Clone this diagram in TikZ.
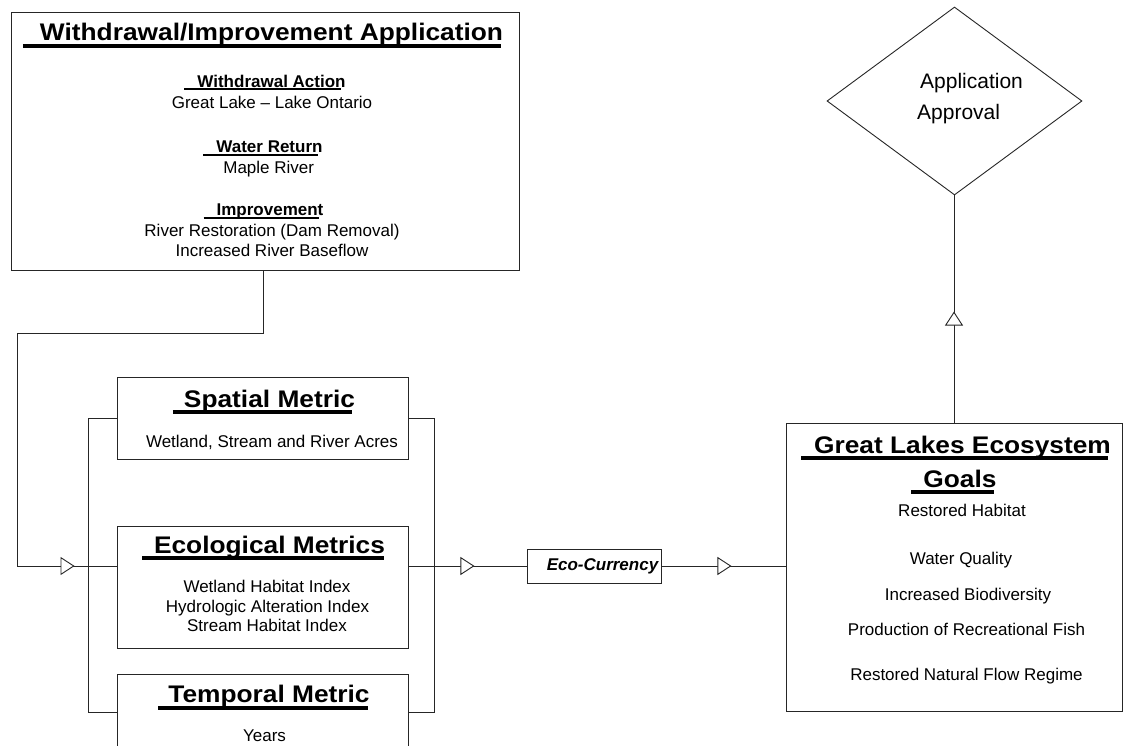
\documentclass[tikz,border=0pt]{standalone}
\usepackage{fontspec}
\setmainfont{Liberation Sans}
\usepackage{graphicx}
\usetikzlibrary{arrows.meta,decorations.markings,shapes.geometric}

\newsavebox{\ulsave}
% #1 lead, #2 trim, #3 drop, #4 thickness, #5 content
\newcommand{\ultext}[5]{\sbox{\ulsave}{#5}\rlap{\hspace*{-#1}\rule[-#3]{\dimexpr\wd\ulsave+#1-#2\relax}{#4}}\usebox{\ulsave}}
\newcommand{\mytitle}[3]{\ultext{#1}{#2}{7pt}{4pt}{\scalebox{1.096}[1]{\fontsize{24}{28}\selectfont\bfseries #3}}}
\newcommand{\mysub}[1]{\ultext{13pt}{4.5pt}{3.2pt}{2.2pt}{\fontsize{17}{20}\selectfont\bfseries #1}}

\tikzset{
  box/.style={draw=black!85, line width=0.9pt, rectangle, inner sep=0pt},
  txt/.style={anchor=base, inner sep=0pt, font=\fontsize{17}{20}\selectfont},
  conn/.style={draw=black!85, line width=0.9pt},
  tri/.style={postaction={decorate, decoration={markings,
      mark=at position #1 with {\arrow{Triangle[length=14pt,width=18pt,fill=white]}}}}}
}

\begin{document}
\begin{tikzpicture}[x=1pt, y=-1pt]
\useasboundingbox (0,0) rectangle (1125,746);
\fill[white] (0,0) rectangle (1125,746);
\clip (0,0) rectangle (1125,746);

% boxes
\node[box, minimum width=508pt, minimum height=258pt] (app) at (265,141) {};
\node[box, minimum width=291pt, minimum height=82pt] (spatial) at (262.5,418) {};
\node[box, minimum width=291pt, minimum height=122pt] (ecol) at (262.5,587) {};
\node[box, minimum width=291pt, minimum height=76pt] (temporal) at (262.5,712) {};
\node[box, minimum width=134pt, minimum height=34pt] (ecocur) at (594,566) {};
\node[box, minimum width=336pt, minimum height=288pt] (goals) at (954,567) {};
\node[draw=black!85, line width=0.9pt, diamond, minimum width=255pt, minimum height=188pt, inner sep=0pt] (approval) at (954.5,101) {};

% application texts
\node[txt] (appt) at (271.5,40.7) {\mytitle{17pt}{2pt}{Withdrawal/Improvement Application}};
\node[txt] (wa) at (271.5,87.3) {\mysub{Withdrawal Action}};
\node[txt] (wal) at (272,109) {Great Lake -- Lake Ontario};
\node[txt] (wr) at (269.5,153) {\mysub{Water Return}};
\node[txt] (wrl) at (268.7,174) {Maple River};
\node[txt] (imp) at (270,216) {\mysub{Improvement}};
\node[txt] (imp1) at (272,237) {River Restoration (Dam Removal)};
\node[txt] (imp2) at (272,257) {Increased River Baseflow};

% metric texts
\node[txt] (spt) at (269.5,407) {\mytitle{11pt}{3pt}{Spatial Metric}};
\node[txt] (sp1) at (272,447.3) {Wetland, Stream and River Acres};
\node[txt] (ect) at (269.5,553) {\mytitle{12pt}{1pt}{Ecological Metrics}};
\node[txt] (ec1) at (267,592.7) {Wetland Habitat Index};
\node[txt] (ec2) at (267.5,612.7) {Hydrologic Alteration Index};
\node[txt] (ec3) at (267,631.7) {Stream Habitat Index};
\node[txt] (tmt) at (269,702.5) {\mytitle{10pt}{2pt}{Temporal Metric}};
\node[txt] (tm1) at (264.5,741) {Years};

% eco currency
\node[txt, font=\fontsize{17}{20}\selectfont\bfseries\itshape] (ecot) at (602.5,570.7) {Eco-Currency};

% goals texts
\node[txt] (glt) at (962.5,453.3) {\mytitle{13pt}{3pt}{Great Lakes Ecosystem}};
\node[txt] (glt2) at (960,487.3) {\mytitle{12pt}{3pt}{Goals}};
\node[txt] (g1) at (962,516) {Restored Habitat};
\node[txt] (g2) at (961,564.3) {Water Quality};
\node[txt] (g3) at (968,600) {Increased Biodiversity};
\node[txt] (g4) at (966.5,635) {Production of Recreational Fish};
\node[txt] (g5) at (966.5,680) {Restored Natural Flow Regime};

% approval texts
\node[txt, anchor=base west, font=\fontsize{21}{24}\selectfont] (ap1) at (920,88.3) {Application};
\node[txt, anchor=base west, font=\fontsize{21}{24}\selectfont] (ap2) at (917,120) {Approval};

% connectors
\coordinate (fbend) at (17,333);
\draw[conn, tri=-42pt] ([xshift=-2pt]app.south) |- (fbend) |- (ecol.west |- ecocur.west);
\draw[conn] (spatial.west) -- ++(-28,0) |- (temporal.west);
\draw[conn] (spatial.east) -- ++(26,0) |- (temporal.east);
\draw[conn, tri=66pt] (ecol.east |- ecocur.west) -- (ecocur.west);
\draw[conn, tri=70pt] (ecocur.east) -- (goals.west |- ecocur.east);
\draw[conn, tri=111pt] (goals.north) -- (goals.north |- approval.south);
\end{tikzpicture}
\end{document}
